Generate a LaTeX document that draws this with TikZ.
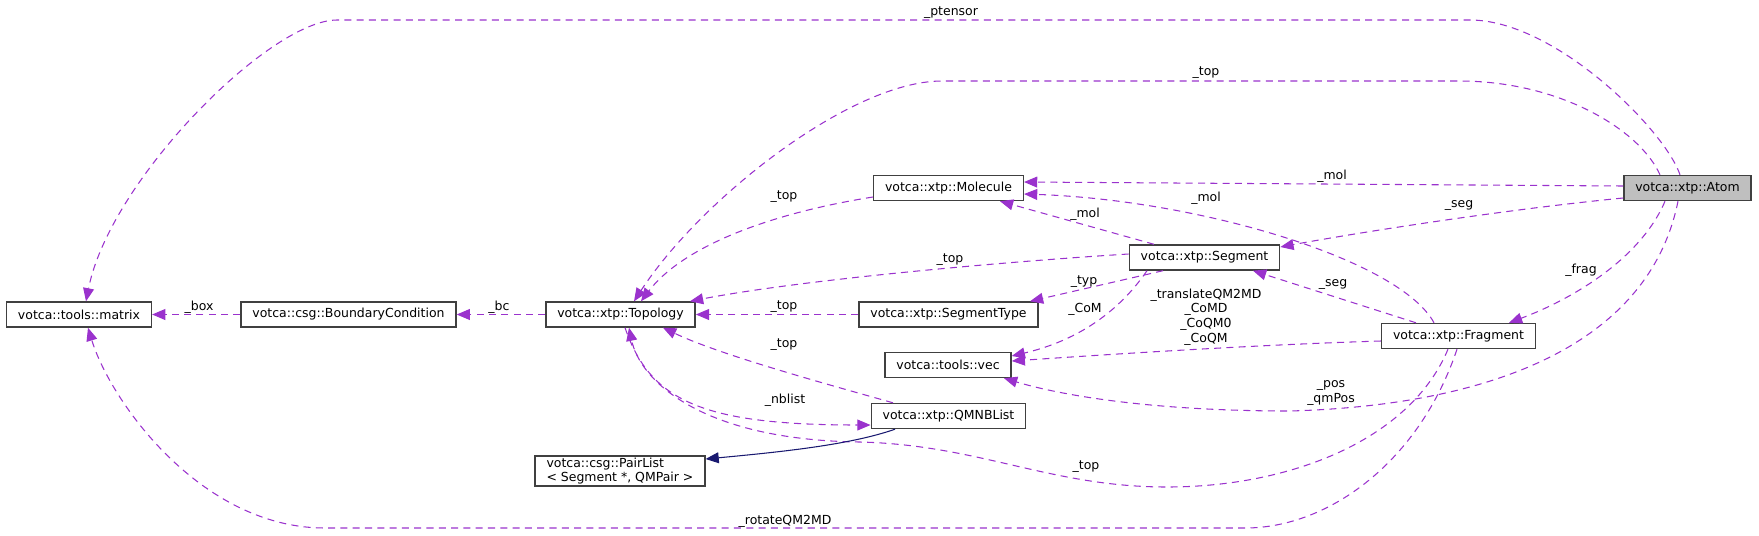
\documentclass[tikz,border=0pt]{standalone}
\usepackage{fontspec}
\setmainfont{DejaVu Sans}
\definecolor{DepPurple}{RGB}{154,50,205}
\definecolor{InhNavy}  {RGB}{25,25,112}
\definecolor{RootGray} {RGB}{191,191,191}
\definecolor{BoxEdge}  {RGB}{64,64,64}
\usetikzlibrary{arrows.meta}

\begin{document}
\begin{tikzpicture}[x=0.02cm,y=-0.02cm,
    every node/.style={font=\fontsize{7.1}{8.3}\selectfont},
    cls/.style={draw=BoxEdge,line width=0.8pt,fill=white,minimum height=0.5cm,
                inner xsep=6.5pt,inner ysep=1pt},
    root/.style={cls,fill=RootGray},
    dep/.style={DepPurple,line width=0.6pt,dash pattern=on 4pt off 3pt,
                -{Triangle[length=7.5pt,width=6.2pt]}},
    inh/.style={InhNavy,line width=0.6pt,-{Triangle[length=7.5pt,width=6.2pt]}},
    lbl/.style={inner sep=0pt,align=center}]
  \useasboundingbox (0,0) rectangle (1759,535);

  \node[root] (atom)     at (1687.5,188)   {votca::xtp::Atom};
  \node[cls]  (molecule) at (948.5,188)    {votca::xtp::Molecule};
  \node[cls]  (segment)  at (1204.5,257.5) {votca::xtp::Segment};
  \node[cls]  (topology) at (620.5,314.5)  {votca::xtp::Topology};
  \node[cls]  (segtype)  at (948.5,314.5)  {votca::xtp::SegmentType};
  \node[cls]  (matrix)   at (79,314.5)     {votca::tools::matrix};
  \node[cls]  (boundary) at (348.5,314.5)  {votca::csg::BoundaryCondition};
  \node[cls]  (vec)      at (948,365)      {votca::tools::vec};
  \node[cls]  (fragment) at (1458.5,336)   {votca::xtp::Fragment};
  \node[cls]  (nblist)   at (948.5,416)    {votca::xtp::QMNBList};
  \node[cls,align=left] (pairlist) at (620,471) {votca::csg::PairList\\< Segment *, QMPair >};

  % members of Atom
  \draw[dep] (atom.north -| 1680,0) .. controls (1665,130) and (1555,20) .. (1470,20)
    -- (337,20) .. controls (270,20) and (110,180) .. (matrix.north -| 86,0);
  \draw[dep] (atom.north -| 1660,0) .. controls (1640,130) and (1560,81) .. (1459,81)
    -- (942,81) .. controls (850,81) and (700,200) .. (topology.north -| 634,0);
  \draw[dep] (atom.west |- 0,186) -- (molecule.east |- 0,182);
  \draw[dep] (atom.west |- 0,198) .. controls (1500,210) and (1350,234) .. (segment.east |- 0,247);
  \draw[dep] (atom.south -| 1665,0) .. controls (1640,260) and (1570,300) .. (fragment.north -| 1509,0);
  \draw[dep] (atom.south -| 1678,0) .. controls (1650,340) and (1500,405) .. (1290,411)
    .. controls (1150,411) and (1060,395) .. (vec.south -| 1004,0);

  % members of Fragment
  \draw[dep] (fragment.west |- 0,341) .. controls (1250,345) and (1100,355) .. (vec.east |- 0,361);
  \draw[dep] (fragment.north -| 1416,0) -- (segment.south -| 1253,0);
  \draw[dep] (fragment.north -| 1434,0) .. controls (1400,260) and (1200,200) .. (molecule.east |- 0,194);
  \draw[dep] (fragment.south -| 1448,0) .. controls (1410,440) and (1290,487) .. (1167,487)
    .. controls (1050,487) and (980,445) .. (860,442)
    .. controls (700,440) and (640,380) .. (topology.south -| 629,0);
  \draw[dep] (fragment.south -| 1457,0) .. controls (1420,460) and (1330,528) .. (1245,528)
    -- (325,528) .. controls (200,528) and (110,400) .. (matrix.south -| 88,0);

  % members of Segment
  \draw[dep] (segment.north -| 1154,0) -- (molecule.south -| 1000,0);
  \draw[dep] (segment.west |- 0,254) .. controls (1000,262) and (800,280) .. (topology.north -| 690,0);
  \draw[dep] (segment.south -| 1163,0) -- (segtype.north -| 1030,0);
  \draw[dep] (segment.south -| 1147,0) .. controls (1120,310) and (1080,340) .. (vec.east |- 0,356);

  \draw[dep] (molecule.west |- 0,197) .. controls (760,215) and (680,250) .. (topology.north -| 641,0);
  \draw[dep] (nblist.north -| 893,0) .. controls (830,385) and (720,355) .. (topology.south -| 663,0);
  \draw[dep] (topology.south -| 625,0) .. controls (650,400) and (700,425) .. (nblist.west |- 0,425);
  \foreach \a/\b in {segtype/topology,topology/boundary,boundary/matrix}
    \draw[dep] (\a.west) -- (\b.east);
  \draw[inh] (nblist.south -| 895,0) .. controls (850,445) and (780,452) .. (pairlist.east |- 0,459);

  \foreach \n/\x/\y/\t in {
      lptensor/951/13/{\_ptensor}, ltopA/1206/73/{\_top}, lmolA/1332/176/{\_mol},
      lsegA/1459/205/{\_seg}, lfrag/1581/270/{\_frag}, lpos/1331/393/{\_pos\\\_qmPos},
      ltopM/784/197/{\_top}, lmolS/1085/214/{\_mol}, ltopS/950/260/{\_top},
      ltyp/1084/282/{\_typ}, lcom/1085/309/{\_CoM},
      ltrans/1206/317/{\_translateQM2MD\\\_CoMD\\\_CoQM0\\\_CoQM},
      lsegF/1333/284/{\_seg}, lmolF/1206/198/{\_mol}, ltopF/1086/467/{\_top},
      lrotate/785/521/{\_rotateQM2MD}, ltopQ/784/345/{\_top}, lnblist/785/400/{\_nblist},
      ltopT/784/307/{\_top}, lbc/499/307/{\_bc}, lbox/199/307/{\_box}}
    \node[lbl] (\n) at (\x,\y) {\t};
\end{tikzpicture}
\end{document}
